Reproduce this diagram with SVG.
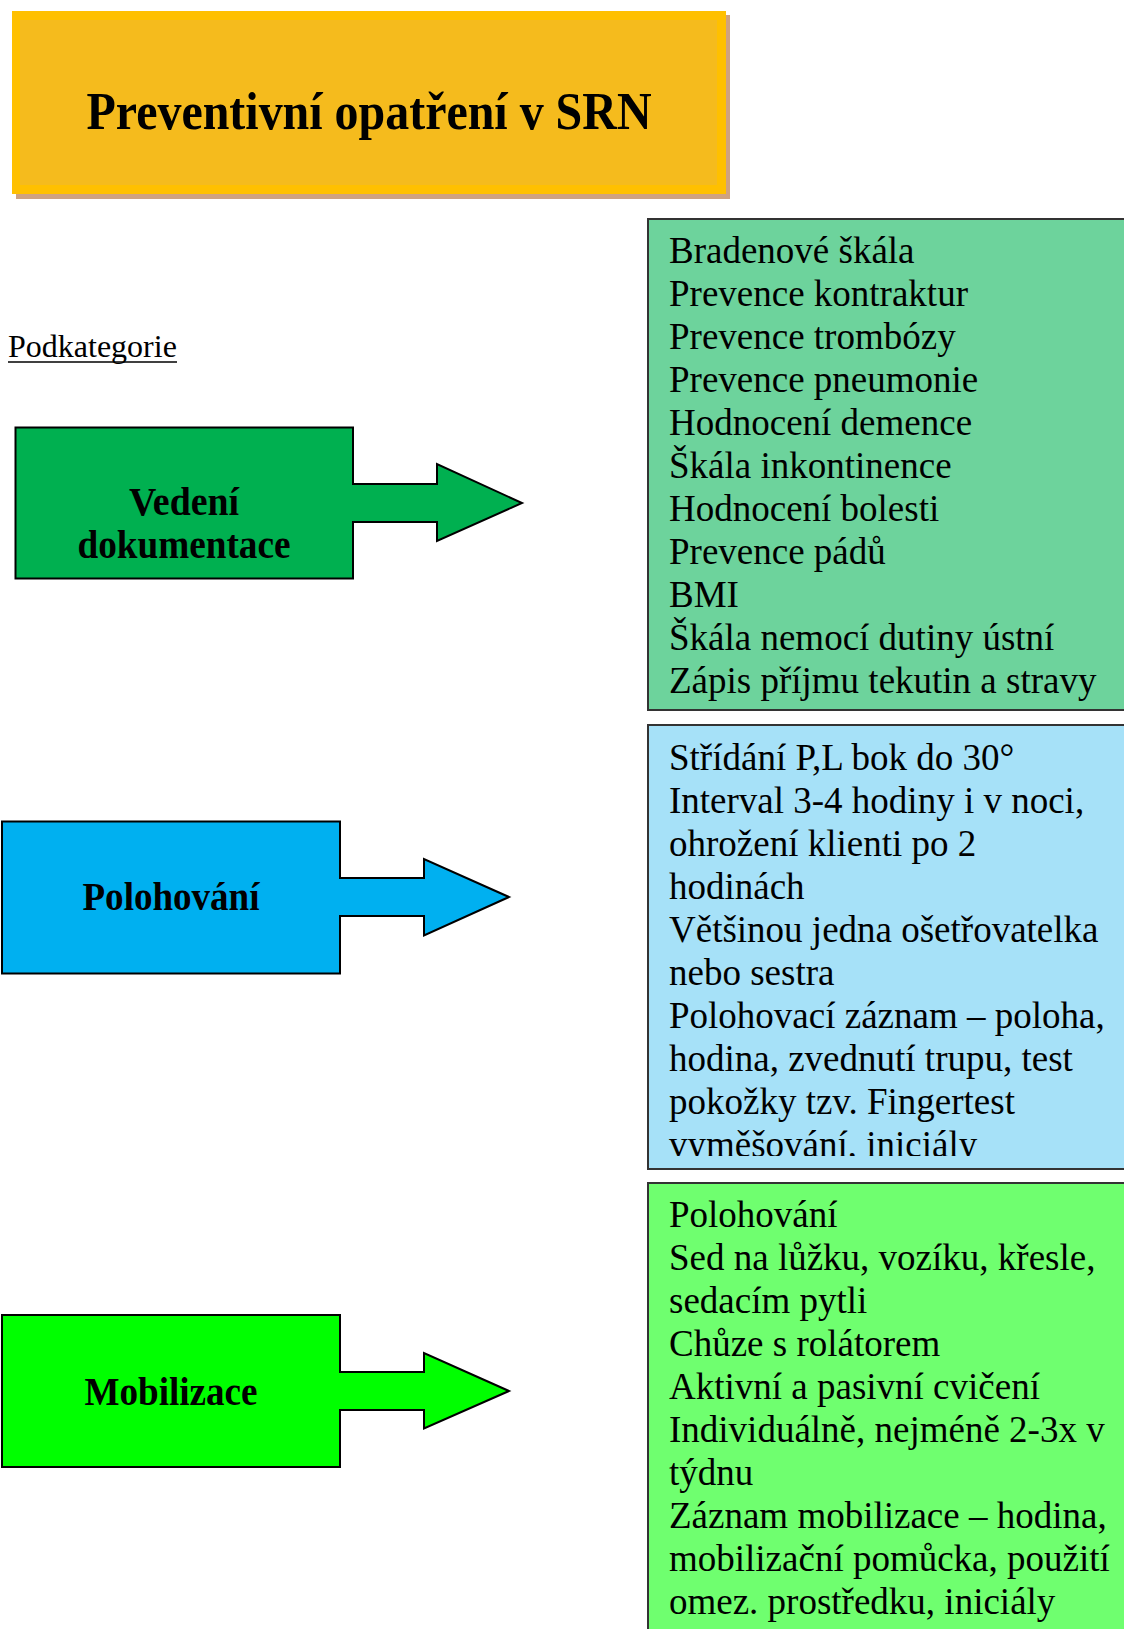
<svg xmlns="http://www.w3.org/2000/svg" width="1124" height="1629" viewBox="0 0 1124 1629">
  <style>
    .serif { font-family: "Liberation Serif", "Times New Roman", serif; }
    .title { font-size: 52px; font-weight: bold; text-anchor: middle; }
    .cat { font-size: 40px; font-weight: bold; text-anchor: middle; fill: #000; }
    .list { font-size: 37px; fill: #000; }
    .arrow { stroke: #000; stroke-width: 2; stroke-linejoin: miter; }
    .panel { stroke: #333; stroke-width: 2; }
  </style>
  <defs>
    <clipPath id="clip-poloh">
      <rect x="648" y="726" width="480" height="430"/>
    </clipPath>
  </defs>

  <rect width="1124" height="1629" fill="#fff"/>

  <!-- heading banner -->
  <g id="title">
    <rect x="16" y="15" width="714" height="184" fill="#CFA27F"/>
    <rect x="12" y="11" width="714" height="183" fill="#FFC000"/>
    <rect x="20" y="20" width="697" height="165" fill="#F5BB1D"/>
    <text class="serif title" x="369" y="129" fill="#000" textLength="565" lengthAdjust="spacingAndGlyphs">Preventivní opatření v SRN</text>
  </g>

  <g id="subcategory-label">
    <text class="serif" x="8" y="357" font-size="32" fill="#000">Podkategorie</text>
    <line x1="8" y1="362" x2="177" y2="362" stroke="#000" stroke-width="1.5"/>
  </g>

  <!-- category blocks with arrow callouts -->
  <g id="cat-dokumentace">
    <path class="arrow" fill="#00B050" d="M15.5 427.5 H353 V484 H437 V464 L522 503 L437 541 V522 H353 V578.5 H15.5 Z"/>
    <text class="serif cat" x="184" y="515" textLength="110" lengthAdjust="spacingAndGlyphs">Vedení</text>
    <text class="serif cat" x="184" y="558" textLength="213" lengthAdjust="spacingAndGlyphs">dokumentace</text>
  </g>

  <g id="cat-polohovani">
    <path class="arrow" fill="#00B0F0" d="M2 821.5 H340 V878 H424 V859 L509 897 L424 935.5 V916 H340 V973.5 H2 Z"/>
    <text class="serif cat" x="171" y="910" textLength="177" lengthAdjust="spacingAndGlyphs">Polohování</text>
  </g>

  <g id="cat-mobilizace">
    <path class="arrow" fill="#00FF00" d="M2 1315 H340 V1372 H424 V1353 L509 1391 L424 1428.5 V1410 H340 V1467 H2 Z"/>
    <text class="serif cat" x="171" y="1405" textLength="173" lengthAdjust="spacingAndGlyphs">Mobilizace</text>
  </g>

  <g id="connectors"/>

  <!-- detail panels -->
  <g id="detail-dokumentace">
    <rect class="panel" x="648" y="219" width="490" height="491" fill="#6DD39C"/>
    <text class="serif list" x="669">
      <tspan x="669" y="263">Bradenové škála</tspan>
      <tspan x="669" y="306">Prevence kontraktur</tspan>
      <tspan x="669" y="349">Prevence trombózy</tspan>
      <tspan x="669" y="392">Prevence pneumonie</tspan>
      <tspan x="669" y="435">Hodnocení demence</tspan>
      <tspan x="669" y="478">Škála inkontinence</tspan>
      <tspan x="669" y="521">Hodnocení bolesti</tspan>
      <tspan x="669" y="564">Prevence pádů</tspan>
      <tspan x="669" y="607">BMI</tspan>
      <tspan x="669" y="650">Škála nemocí dutiny ústní</tspan>
      <tspan x="669" y="693">Zápis příjmu tekutin a stravy</tspan>
    </text>
  </g>

  <g id="detail-polohovani">
    <rect class="panel" x="648" y="725" width="490" height="444" fill="#A6E1F8"/>
    <text class="serif list" x="669" clip-path="url(#clip-poloh)">
      <tspan x="669" y="770">Střídání P,L bok do 30°</tspan>
      <tspan x="669" y="813">Interval 3-4 hodiny i v noci,</tspan>
      <tspan x="669" y="856">ohrožení klienti po 2</tspan>
      <tspan x="669" y="899">hodinách</tspan>
      <tspan x="669" y="942">Většinou jedna ošetřovatelka</tspan>
      <tspan x="669" y="985">nebo sestra</tspan>
      <tspan x="669" y="1028">Polohovací záznam – poloha,</tspan>
      <tspan x="669" y="1071">hodina, zvednutí trupu, test</tspan>
      <tspan x="669" y="1114">pokožky tzv. Fingertest</tspan>
      <tspan x="669" y="1157">vyměšování, iniciály</tspan>
    </text>
  </g>

  <g id="detail-mobilizace">
    <rect class="panel" x="648" y="1183" width="490" height="460" fill="#6FFF6F"/>
    <text class="serif list" x="669">
      <tspan x="669" y="1227">Polohování</tspan>
      <tspan x="669" y="1270">Sed na lůžku, vozíku, křesle,</tspan>
      <tspan x="669" y="1313">sedacím pytli</tspan>
      <tspan x="669" y="1356">Chůze s rolátorem</tspan>
      <tspan x="669" y="1399">Aktivní a pasivní cvičení</tspan>
      <tspan x="669" y="1442">Individuálně, nejméně 2-3x v</tspan>
      <tspan x="669" y="1485">týdnu</tspan>
      <tspan x="669" y="1528">Záznam mobilizace – hodina,</tspan>
      <tspan x="669" y="1571">mobilizační pomůcka, použití</tspan>
      <tspan x="669" y="1614">omez. prostředku, iniciály</tspan>
    </text>
  </g>
</svg>
